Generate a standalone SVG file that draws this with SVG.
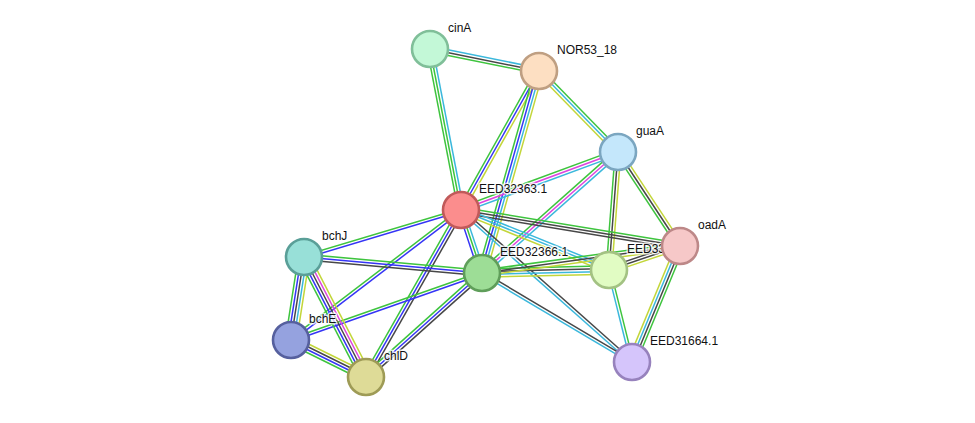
<svg xmlns="http://www.w3.org/2000/svg" width="975" height="423" viewBox="0 0 975 423">
<style>
line{stroke-width:1.5;fill:none}
.g{stroke:#3ec43e}.b{stroke:#3535f5}.k{stroke:#474747}.c{stroke:#3bb8dc}.m{stroke:#dd44dd}.y{stroke:#c3d63a}
circle{stroke-width:2.6}
text{font-family:"Liberation Sans",Arial,sans-serif;font-size:12px;fill:#111;stroke:#fff;stroke-width:3;stroke-opacity:0.75;paint-order:stroke;stroke-linejoin:round}
</style>
<rect width="975" height="423" fill="#fff"/>
<g id="edges">
<!-- cinA-NOR53_18 -->
<g transform="translate(430,49) rotate(11.41)"><line class="c" x2="111.2" y1="-2.8" y2="-2.8"/><line class="k" x2="111.2"/><line class="g" x2="111.2" y1="2.8" y2="2.8"/></g>
<!-- cinA-EED32363.1 -->
<g transform="translate(430,49) rotate(79.10)"><line class="c" x2="164" y1="-2.8" y2="-2.8"/><line class="g" x2="164"/><line class="g" x2="164" y1="2.8" y2="2.8"/></g>
<!-- NOR-R -->
<g transform="translate(539,71) rotate(119.30)"><line class="y" x2="159.4" y1="-2.8" y2="-2.8"/><line class="b" x2="159.4"/><line class="g" x2="159.4" y1="2.8" y2="2.8"/></g>
<!-- NOR-E -->
<g transform="translate(539,71) rotate(105.76)"><line class="y" x2="209.9" y1="-4.2" y2="-4.2"/><line class="c" x2="209.9" y1="-1.4" y2="-1.4"/><line class="b" x2="209.9" y1="1.4" y2="1.4"/><line class="g" x2="209.9" y1="4.2" y2="4.2"/></g>
<!-- NOR-guaA -->
<g transform="translate(539,71) rotate(45.72)"><line class="g" x2="113.1" y1="-2.8" y2="-2.8"/><line class="c" x2="113.1"/><line class="y" x2="113.1" y1="2.8" y2="2.8"/></g>
<!-- guaA-R -->
<g transform="translate(618,152) rotate(159.73)"><line class="c" x2="167.4" y1="-2.8" y2="-2.8"/><line class="m" x2="167.4"/><line class="g" x2="167.4" y1="2.8" y2="2.8"/></g>
<!-- guaA-E -->
<g transform="translate(618,152) rotate(138.34)"><line class="c" x2="182" y1="-2.8" y2="-2.8"/><line class="m" x2="182"/><line class="g" x2="182" y1="2.8" y2="2.8"/></g>
<!-- guaA-L -->
<g transform="translate(618,152) rotate(94.36)"><line class="y" x2="118.3" y1="-2.8" y2="-2.8"/><line class="k" x2="118.3"/><line class="g" x2="118.3" y1="2.8" y2="2.8"/></g>
<!-- guaA-oadA -->
<g transform="translate(618,152) rotate(56.59)"><line class="y" x2="112.6" y1="-2.8" y2="-2.8"/><line class="k" x2="112.6"/><line class="g" x2="112.6" y1="2.8" y2="2.8"/></g>
<!-- R-oadA -->
<g transform="translate(461,210) rotate(9.34)"><line class="g" x2="221.9" y1="-2.8" y2="-2.8"/><line class="k" x2="221.9"/><line class="k" x2="221.9" y1="2.8" y2="2.8"/></g>
<!-- R-L -->
<g transform="translate(461,210) rotate(22.07)"><line class="c" x2="159.7" y1="-2.8" y2="-2.8"/><line class="c" x2="159.7"/><line class="y" x2="159.7" y1="2.8" y2="2.8"/></g>
<!-- R-E -->
<g transform="translate(461,210) rotate(71.57)"><line class="c" x2="66.4" y1="-2.8" y2="-2.8"/><line class="g" x2="66.4"/><line class="b" x2="66.4" y1="2.8" y2="2.8"/></g>
<!-- R-bchJ -->
<g transform="translate(461,210) rotate(163.33)"><line class="b" x2="163.9" y1="-1.4" y2="-1.4"/><line class="g" x2="163.9" y1="1.4" y2="1.4"/></g>
<!-- R-bchE -->
<g transform="translate(461,210) rotate(142.59)"><line class="b" x2="214" y1="-1.4" y2="-1.4"/><line class="g" x2="214" y1="1.4" y2="1.4"/></g>
<!-- R-chlD -->
<g transform="translate(461,210) rotate(119.64)"><line class="k" x2="192.1" y1="-2.8" y2="-2.8"/><line class="b" x2="192.1"/><line class="g" x2="192.1" y1="2.8" y2="2.8"/></g>
<!-- R-P -->
<g transform="translate(461,210) rotate(41.63)"><line class="k" x2="228.8" y1="-1.4" y2="-1.4"/><line class="c" x2="228.8" y1="1.4" y2="1.4"/></g>
<!-- E-bchJ -->
<g transform="translate(482,273) rotate(185.14)"><line class="k" x2="178.7" y1="-2.8" y2="-2.8"/><line class="b" x2="178.7"/><line class="g" x2="178.7" y1="2.8" y2="2.8"/></g>
<!-- E-bchE -->
<g transform="translate(482,273) rotate(160.67)"><line class="b" x2="202.4" y1="-1.4" y2="-1.4"/><line class="g" x2="202.4" y1="1.4" y2="1.4"/></g>
<!-- E-chlD -->
<g transform="translate(482,273) rotate(138.12)"><line class="k" x2="155.8" y1="-2.8" y2="-2.8"/><line class="b" x2="155.8"/><line class="g" x2="155.8" y1="2.8" y2="2.8"/></g>
<!-- E-L -->
<g transform="translate(482,273) rotate(-1.35)"><line class="g" x2="127" y1="-4.2" y2="-4.2"/><line class="k" x2="127" y1="-1.4" y2="-1.4"/><line class="c" x2="127" y1="1.4" y2="1.4"/><line class="y" x2="127" y1="4.2" y2="4.2"/></g>
<!-- E-oadA -->
<g transform="translate(482,273) rotate(-7.77)"><line class="g" x2="199.8" y1="-2.8" y2="-2.8"/><line class="k" x2="199.8"/><line class="y" x2="199.8" y1="2.8" y2="2.8"/></g>
<!-- E-P -->
<g transform="translate(482,273) rotate(30.68)"><line class="k" x2="174.4" y1="-1.4" y2="-1.4"/><line class="c" x2="174.4" y1="1.4" y2="1.4"/></g>
<!-- bchJ-bchE -->
<g transform="translate(304,257) rotate(98.90)"><line class="y" x2="84" y1="-5.6" y2="-5.6"/><line class="c" x2="84" y1="-2.8" y2="-2.8"/><line class="k" x2="84"/><line class="b" x2="84" y1="2.8" y2="2.8"/><line class="g" x2="84" y1="5.6" y2="5.6"/></g>
<!-- bchJ-chlD -->
<g transform="translate(304,257) rotate(62.68)"><line class="y" x2="135.1" y1="-5.6" y2="-5.6"/><line class="m" x2="135.1" y1="-2.8" y2="-2.8"/><line class="k" x2="135.1"/><line class="b" x2="135.1" y1="2.8" y2="2.8"/><line class="g" x2="135.1" y1="5.6" y2="5.6"/></g>
<!-- bchE-chlD -->
<g transform="translate(291,340) rotate(26.26)"><line class="y" x2="83.6" y1="-4.2" y2="-4.2"/><line class="k" x2="83.6" y1="-1.4" y2="-1.4"/><line class="b" x2="83.6" y1="1.4" y2="1.4"/><line class="g" x2="83.6" y1="4.2" y2="4.2"/></g>
<!-- L-oadA -->
<g transform="translate(609,270) rotate(-18.68)"><line class="k" x2="74.9" y1="-2.8" y2="-2.8"/><line class="k" x2="74.9"/><line class="y" x2="74.9" y1="2.8" y2="2.8"/></g>
<!-- L-P -->
<g transform="translate(609,270) rotate(75.96)"><line class="g" x2="94.8" y1="-1.4" y2="-1.4"/><line class="c" x2="94.8" y1="1.4" y2="1.4"/></g>
<!-- oadA-P -->
<g transform="translate(680,246) rotate(112.48)"><line class="g" x2="125.5" y1="-4.2" y2="-4.2"/><line class="k" x2="125.5" y1="-1.4" y2="-1.4"/><line class="c" x2="125.5" y1="1.4" y2="1.4"/><line class="y" x2="125.5" y1="4.2" y2="4.2"/></g>
</g>
<g id="node-cinA"><circle cx="430" cy="49" r="18" fill="#c3f8d7" stroke="#80bf99"/><text x="448" y="32">cinA</text></g>
<g id="node-NOR53_18"><circle cx="539" cy="71" r="18" fill="#fddfc2" stroke="#bf9f82"/><text x="557" y="54">NOR53_18</text></g>
<g id="node-guaA"><circle cx="618" cy="152" r="18" fill="#c4e7fb" stroke="#7ba6c0"/><text x="636" y="135">guaA</text></g>
<g id="node-EED32363.1"><circle cx="461" cy="210" r="18" fill="#fb8d8d" stroke="#c05a5a"/><text x="479" y="193">EED32363.1</text></g>
<g id="node-EED32366.1"><circle cx="482" cy="273" r="18" fill="#9ddd96" stroke="#5f9e5a"/><text x="500" y="256">EED32366.1</text></g>
<g id="node-EED33"><circle cx="609" cy="270" r="18" fill="#e1fcc3" stroke="#a3c283"/><text x="627" y="253">EED33</text></g>
<g id="node-oadA"><circle cx="680" cy="246" r="18" fill="#f6c8c8" stroke="#bd8888"/><text x="698" y="229">oadA</text></g>
<g id="node-bchJ"><circle cx="304" cy="257" r="18" fill="#98e0d8" stroke="#5a9f98"/><text x="322" y="240">bchJ</text></g>
<g id="node-bchE"><circle cx="291" cy="340" r="18" fill="#95a2df" stroke="#56609e"/><text x="309" y="323">bchE</text></g>
<g id="node-chlD"><circle cx="366" cy="377" r="18" fill="#dedb97" stroke="#9e9b56"/><text x="384" y="360">chlD</text></g>
<g id="node-EED31664.1"><circle cx="632" cy="362" r="18" fill="#d5c5fb" stroke="#9782bd"/><text x="650" y="345">EED31664.1</text></g>
</svg>
